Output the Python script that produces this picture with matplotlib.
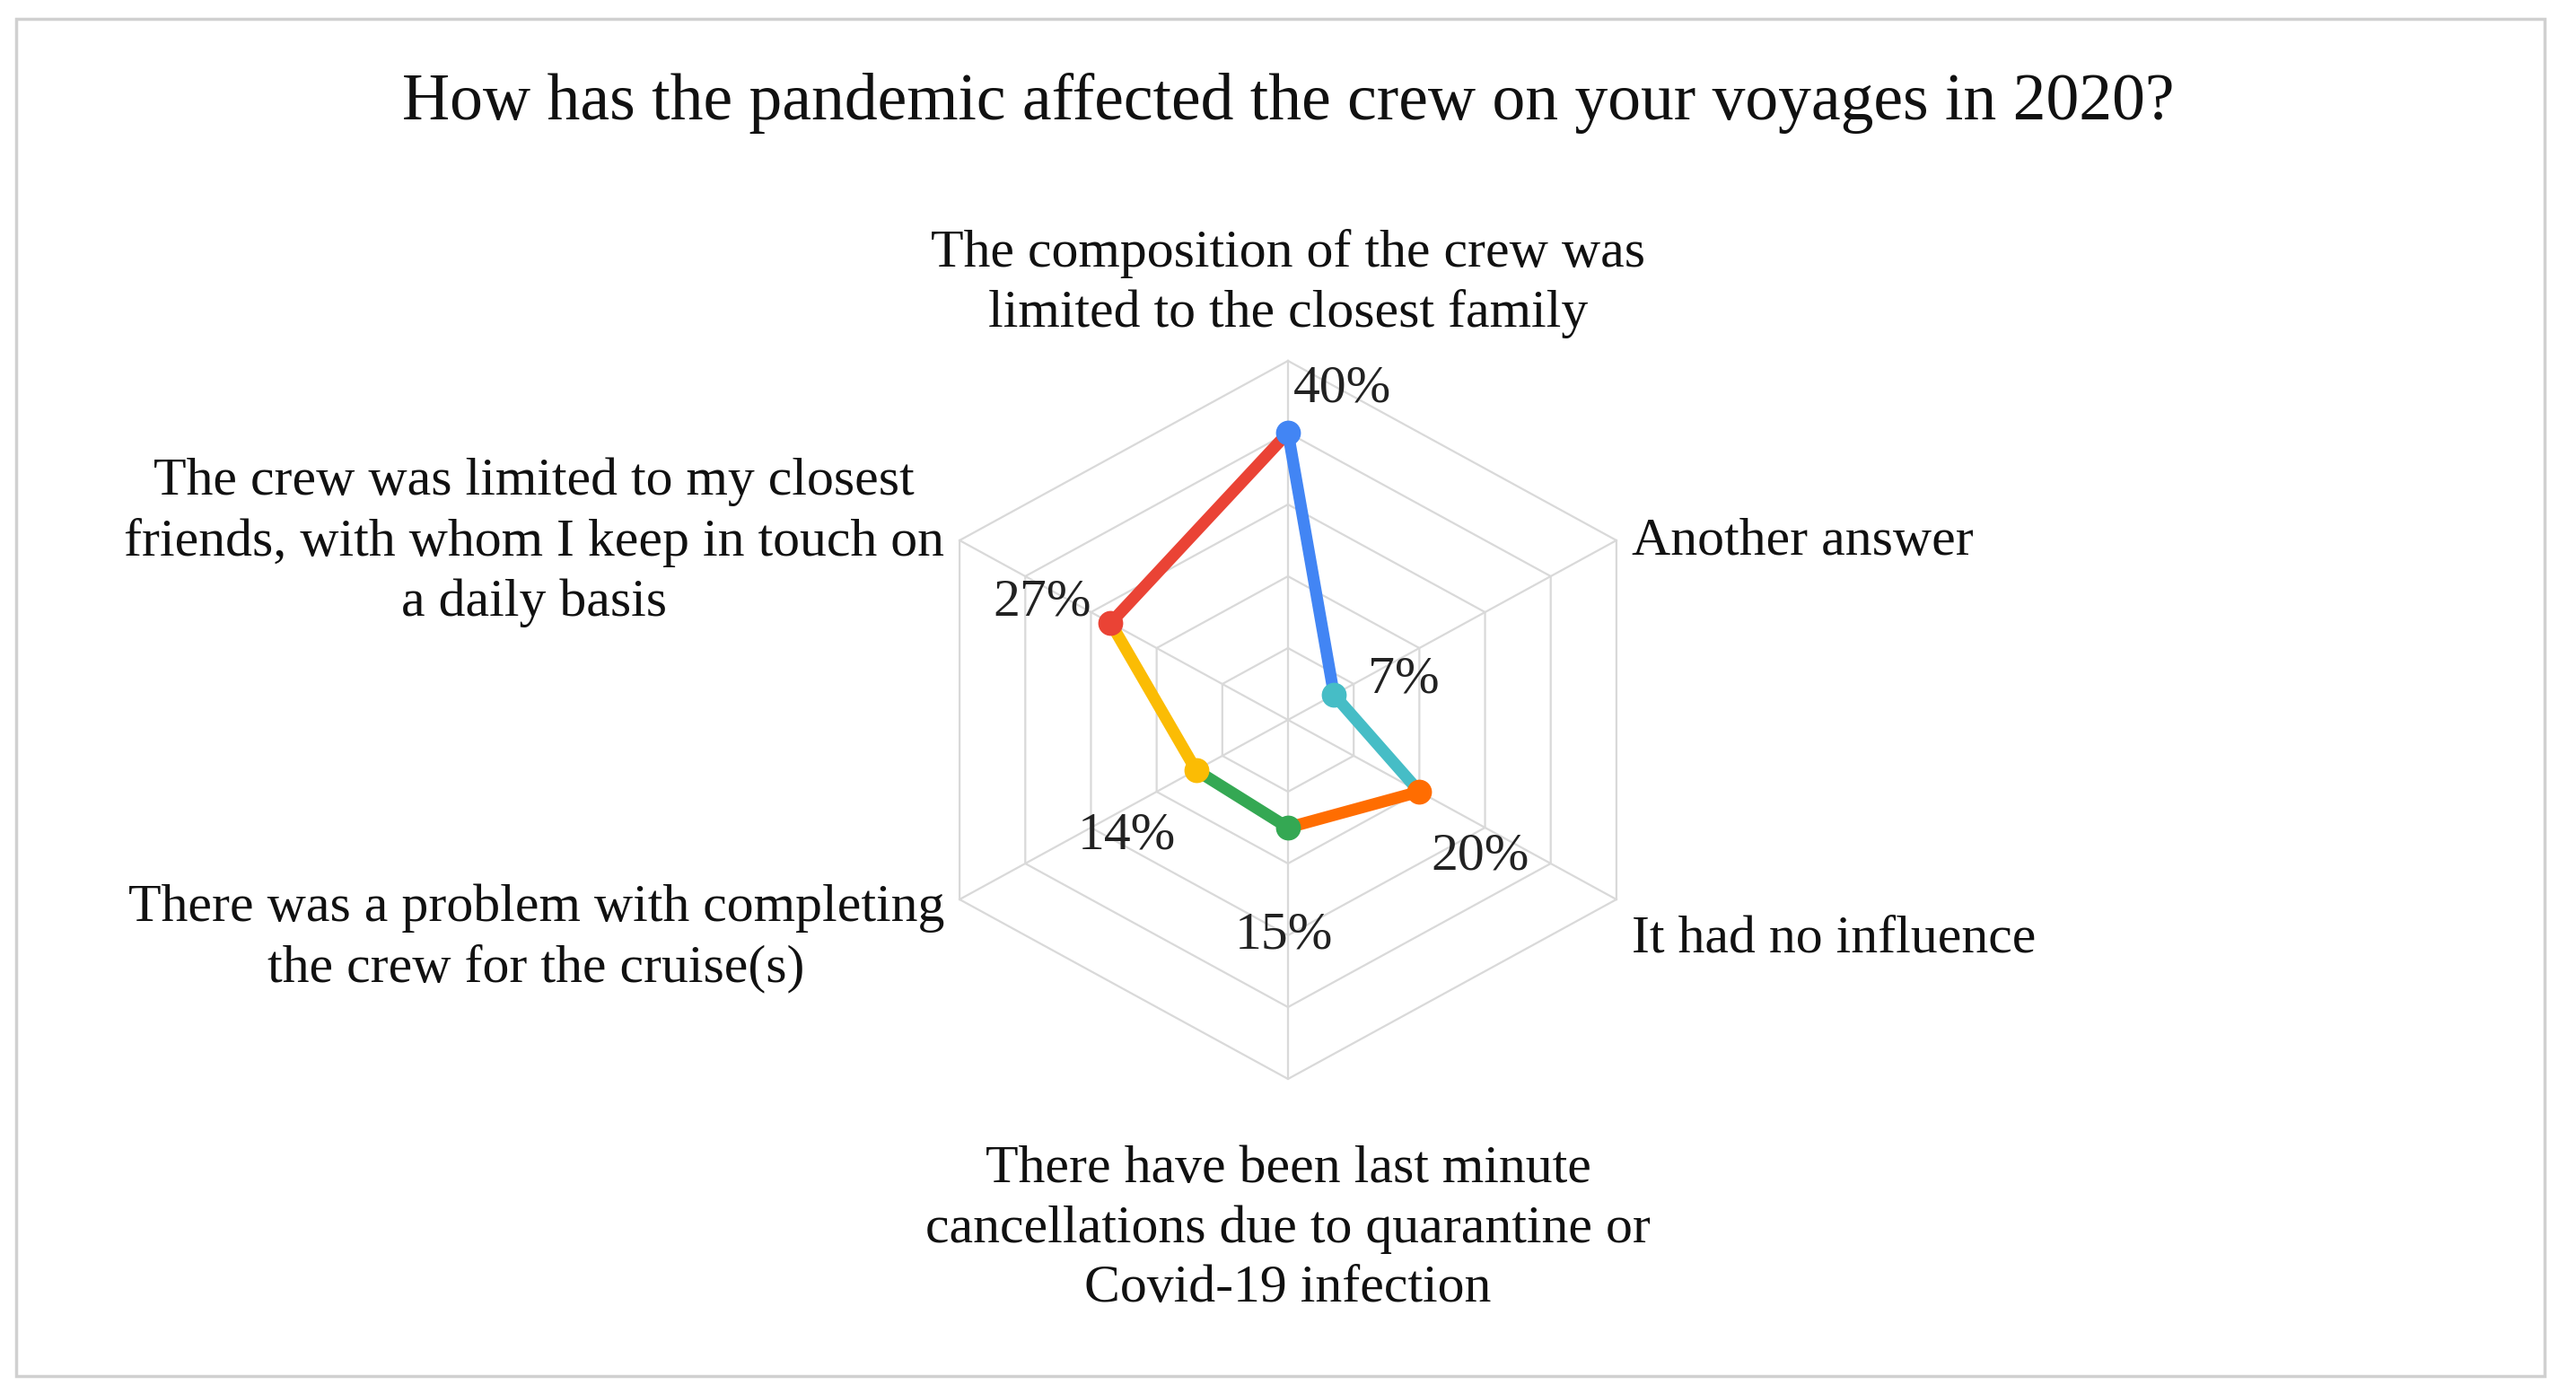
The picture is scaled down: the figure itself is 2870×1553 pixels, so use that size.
import numpy as np
import matplotlib
matplotlib.use("Agg")
import matplotlib.pyplot as plt
from matplotlib.patches import Rectangle

plt.rcParams["font.family"] = ["Liberation Serif", "DejaVu Serif"]

TITLE = "How has the pandemic affected the crew on your voyages in 2020?"

# answers, clockwise from the top
categories = [
    "The composition of the crew was\nlimited to the closest family",
    "Another answer",
    "It had no influence",
    "There have been last minute\ncancellations due to quarantine or\nCovid-19 infection",
    "There was a problem with completing\nthe crew for the cruise(s)",
    "The crew was limited to my closest\nfriends, with whom I keep in touch on\na daily basis",
]
values = [40, 7, 20, 15, 14, 27]
colors = ["#4285F4", "#46BDC6", "#FF6D01", "#34A853", "#FBBC04", "#EA4335"]
ring_levels = [10, 20, 30, 40, 50]

# figure is 2870x1553 px; chart centre at (1435, 802) px
W, H = 2870, 1553
CX, CY = 1435, 802
SX, SY = 8.45, 8.0  # px per percent, horizontal / vertical

fig = plt.figure(figsize=(W / 100, H / 100), dpi=100)
ax = fig.add_axes([0, 0, 1, 1])
ax.set_xlim(-CX / SX, (W - CX) / SX)
ax.set_ylim(-(H - CY) / SY, CY / SY)
ax.axis("off")

n = len(values)
theta = np.arange(n) * 2 * np.pi / n


def to_xy(r, t):
    return r * np.sin(t), r * np.cos(t)


# hexagonal grid
grid_c = "#d9d9d9"
tt = np.append(theta, theta[0])
for lvl in ring_levels:
    gx, gy = to_xy(lvl, tt)
    ax.plot(gx, gy, color=grid_c, lw=1.6, zorder=1)
rmax = max(ring_levels)
for t in theta:
    sx, sy = to_xy(rmax, t)
    ax.plot([0, sx], [0, sy], color=grid_c, lw=1.6, zorder=1)

# coloured segments, each starting at its own point
px, py = to_xy(np.array(values, dtype=float), theta)
for i in range(n):
    j = (i + 1) % n
    ax.plot([px[i], px[j]], [py[i], py[j]], color=colors[i], lw=9.5,
            solid_capstyle="round", zorder=2)
for i in range(n):
    ax.plot(px[i], py[i], "o", color=colors[i], ms=19, mec=colors[i], zorder=3)

# value labels
val_off = [(0.7, 6.0, "left"), (4.5, 2.0, "left"), (1.5, -9.1, "left"),
           (-0.5, -15.1, "center"), (-15.6, -9.25, "left"), (-15.5, 2.75, "left")]
for i, v in enumerate(values):
    dx, dy, ha = val_off[i]
    ax.text(px[i] + dx, py[i] + dy, f"{v}%", ha=ha, va="center",
            fontsize=43, color="#222222", zorder=4)

# category labels
cat_pos = [(0, 60.75, "center"), (45.3, 24.75, "left"), (45.3, -30.6, "left"),
           (0, -70.9, "center"), (-45.3, -30.4, "right"), (-45.3, 24.75, "right")]
for lab, (x, y, ha) in zip(categories, cat_pos):
    ax.text(x, y, lab, ha=ha, va="center", multialignment="center",
            fontsize=43, linespacing=1.3, color="#111111")

fig.text(CX / W, 1 - 115 / H, TITLE, ha="center", va="center", fontsize=53,
         color="#111111")

fig.patches.append(Rectangle((18 / W, 20 / H), (2835 - 18) / W, (1532 - 20) / H,
                             transform=fig.transFigure, fill=False,
                             edgecolor="#d0d0d0", lw=2.5))

fig.savefig("out.png", dpi=100)
